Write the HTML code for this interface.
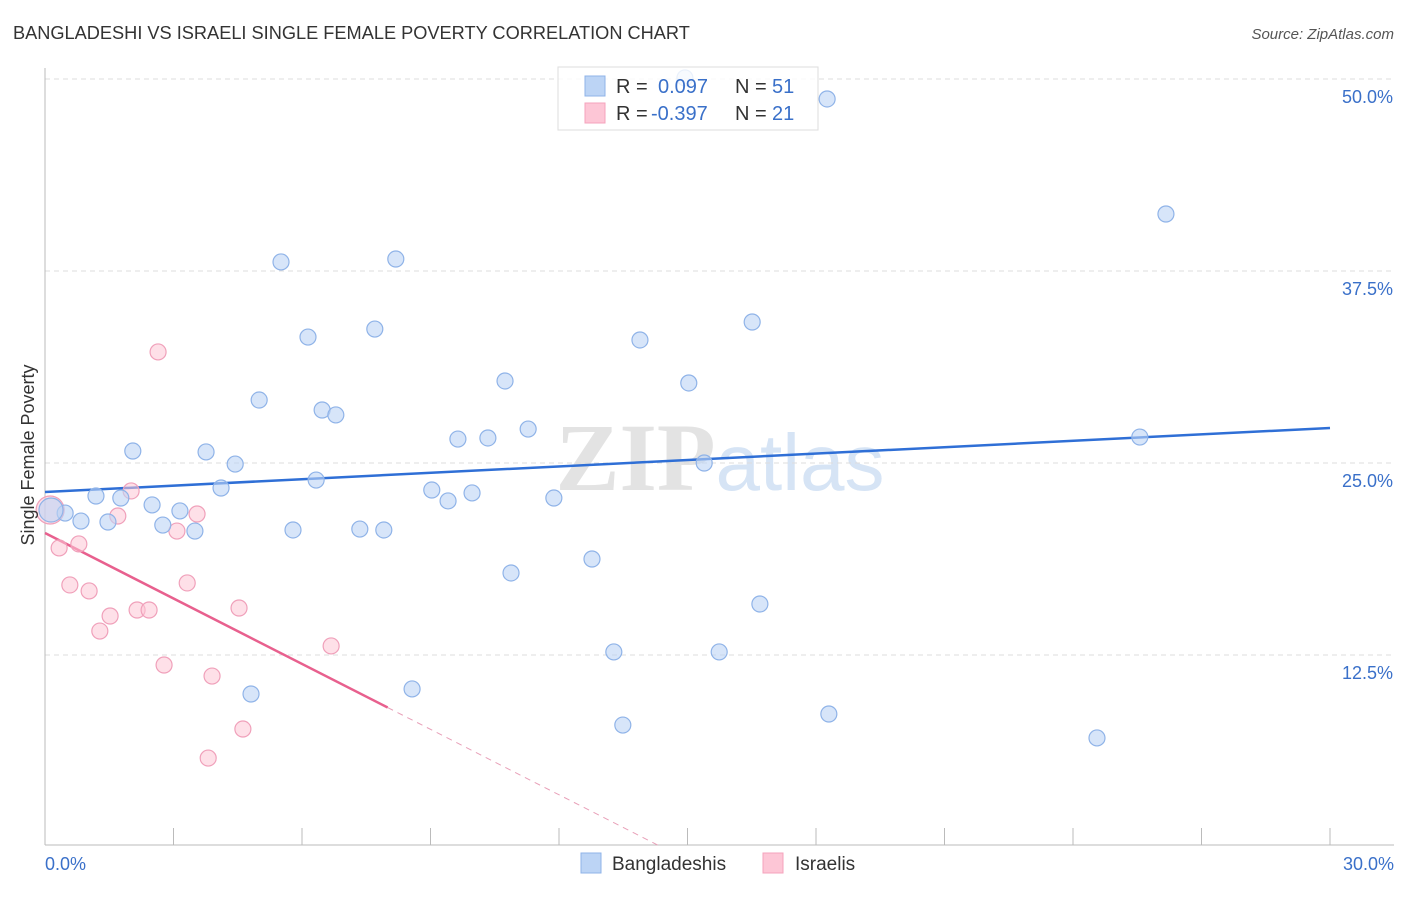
<!DOCTYPE html>
<html><head><meta charset="utf-8"><style>
body{margin:0;background:#fff;font-family:"Liberation Sans",sans-serif;}
svg text{font-family:"Liberation Sans",sans-serif;}
</style></head><body>
<svg id="chart" width="1406" height="892" viewBox="0 0 1406 892" xmlns="http://www.w3.org/2000/svg">
<text x="13" y="39" font-size="18.2" fill="#333">BANGLADESHI VS ISRAELI SINGLE FEMALE POVERTY CORRELATION CHART</text>
<text x="1394" y="39" font-size="15" fill="#555" text-anchor="end" font-style="italic">Source: ZipAtlas.com</text>
<text x="720" y="490" font-size="96" text-anchor="middle" fill="#e3e3e3"><tspan font-family="Liberation Serif" font-weight="bold">ZIP</tspan><tspan fill="#d6e4f5" font-size="80">atlas</tspan></text>
<g id="grid"></g>
<g id="axes"></g>
<g id="lines"></g>
<g id="pts"></g>
<text transform="translate(34,455) rotate(-90)" font-size="18" fill="#333" text-anchor="middle">Single Female Poverty</text>
<g>
<rect x="558" y="67" width="260" height="63" fill="#fff" fill-opacity="0.8" stroke="#ddd"/>
<rect x="585" y="76" width="20" height="20" fill="#bcd4f5" stroke="#8fb3e8"/>
<rect x="585" y="103" width="20" height="20" fill="#fdc6d6" stroke="#f5a3bc"/>
<text x="616" y="93" font-size="20" fill="#333">R = </text><text x="658" y="93" font-size="20" fill="#3a70c9">0.097</text>
<text x="735" y="93" font-size="20" fill="#333">N = </text><text x="772" y="93" font-size="20" fill="#3a70c9">51</text>
<text x="616" y="120" font-size="20" fill="#333">R = </text><text x="651" y="120" font-size="20" fill="#3a70c9">-0.397</text>
<text x="735" y="120" font-size="20" fill="#333">N = </text><text x="772" y="120" font-size="20" fill="#3a70c9">21</text>
</g>
<g>
<rect x="581" y="853" width="20" height="20" fill="#bcd4f5" stroke="#8fb3e8"/>
<text x="612" y="870" font-size="19" fill="#333">Bangladeshis</text>
<rect x="763" y="853" width="20" height="20" fill="#fdc6d6" stroke="#f5a3bc"/>
<text x="795" y="870" font-size="19" fill="#333">Israelis</text>
</g>
</svg>
<script>
const blueX=[14.94,18.26,26.17,5.51,8.19,6.14,7.70,13.89,16.51,10.74,15.03,5.00,6.47,6.79,9.64,10.34,11.28,2.05,3.76,4.44,15.39,25.56,6.33,4.11,1.19,1.77,2.50,3.15,9.03,9.41,9.97,11.88,0.47,0.84,1.47,2.75,3.50,5.79,7.35,7.91,0.14,10.88,12.77,16.69,13.28,15.74,4.81,8.57,13.49,18.30,24.56];
const blueY=[50.07,48.70,41.21,38.09,38.28,33.20,33.72,33.01,34.18,30.34,30.21,29.10,28.45,28.13,26.56,26.63,27.21,25.78,25.72,24.93,25.0,26.69,23.89,23.37,22.85,22.72,22.27,21.88,23.24,22.53,23.05,22.72,21.74,21.22,21.16,20.96,20.57,20.64,20.70,20.64,21.94,17.84,18.75,15.82,12.70,12.70,9.96,10.29,7.94,8.66,7.10];
const pinkX=[2.64,2.01,1.70,3.55,3.08,0.79,0.33,0.12,0.58,1.03,3.32,1.52,2.15,2.43,1.28,4.53,6.68,2.78,3.90,4.62,3.81];
const pinkY=[32.23,23.18,21.55,21.68,20.57,19.73,19.47,21.94,17.06,16.67,17.19,15.04,15.43,15.43,14.06,15.56,13.09,11.85,11.13,7.68,5.79];
const blueTrend=[23.11,27.28];
const pinkTrend=[20.44,-1.42];
const yTicks=[12.5,25.0,37.5,50.0];
const yTickLabels=["12.5%","25.0%","37.5%","50.0%"];
const xTickLabels=["0.0%","30.0%"];
const NS="http://www.w3.org/2000/svg";
const X=v=>45+v/30*1285, Y=v=>847-v/50*768;
function mk(t,a,p){const e=document.createElementNS(NS,t);for(const k in a)e.setAttribute(k,a[k]);document.getElementById(p).appendChild(e);return e;}
yTicks.forEach((t,i)=>{
 const g=mk('line',{x1:45,x2:1394,y1:Y(t),y2:Y(t),stroke:'#ddd','stroke-dasharray':'5,4'},'grid');
 
 
 const l=mk('text',{x:1393,y:Y(t)+24,'font-size':18,fill:'#3a70c9','text-anchor':'end'},'axes');
 l.textContent=yTickLabels[i];
 
 
});
const ax=mk('line',{x1:45,x2:1394,y1:845,y2:845,stroke:'#bbb'},'axes');


const ay=mk('line',{x1:45,x2:45,y1:68,y2:845,stroke:'#bbb'},'axes');


for(let i=1;i<=10;i++){const t=mk('line',{x1:X(i*3),x2:X(i*3),y1:828,y2:845,stroke:'#bbb'},'axes');
 
 }
[[0,'start',45],[30,'end',1394]].forEach((d,i)=>{const t=mk('text',{x:d[2],y:870,'font-size':18,fill:'#3a70c9','text-anchor':d[1]},'axes');t.textContent=xTickLabels[i];
 
 });
const bl=mk('line',{x1:X(0),y1:Y(blueTrend[0]),x2:X(30),y2:Y(blueTrend[1]),stroke:'#2f6fd6','stroke-width':2.5},'lines');


const pEnd=8.0, pZero=-pinkTrend[0]/pinkTrend[1];
const pl=mk('line',{x1:X(0),y1:Y(pinkTrend[0]),x2:X(pEnd),y2:Y(pinkTrend[0]+pinkTrend[1]*pEnd),stroke:'#e8608e','stroke-width':2.5},'lines');


const pd=mk('line',{x1:X(pEnd),y1:Y(pinkTrend[0]+pinkTrend[1]*pEnd),x2:X(pZero),y2:Y(0),stroke:'#e8a0b8','stroke-width':1,'stroke-dasharray':'6,5'},'lines');


pinkX.forEach((x,i)=>{const c=mk('circle',{cx:X(x),cy:Y(pinkY[i]),r:(i==7?14:8),fill:'#fdc6d6','fill-opacity':0.55,stroke:'#f0a0ba','stroke-width':1.2},'pts');
 
 });
blueX.forEach((x,i)=>{const c=mk('circle',{cx:X(x),cy:Y(blueY[i]),r:(i==40?12:8),fill:'#bcd4f5','fill-opacity':0.6,stroke:'#8fb3e8','stroke-width':1.2},'pts');
 
 });
</script>
</body></html>
